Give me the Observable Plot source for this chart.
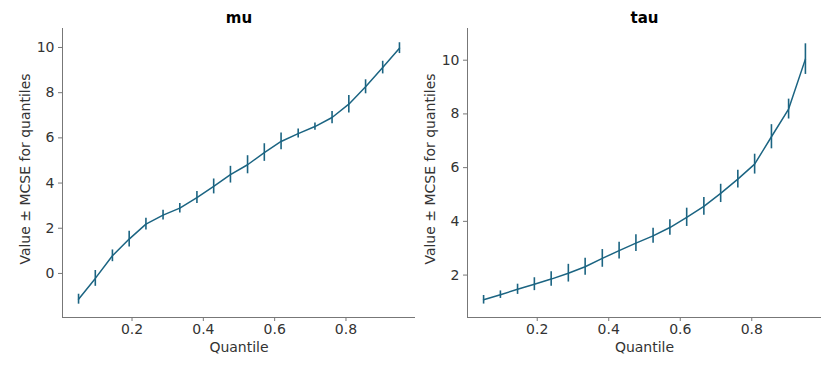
<!DOCTYPE html>
<html>
<head>
<meta charset="utf-8">
<script src="https://cdn.jsdelivr.net/npm/d3@7"></script>
<script src="https://cdn.jsdelivr.net/npm/@observablehq/plot@0.6"></script>
<style>
  html, body { margin: 0; padding: 0; background: #fff; }
  #wrap { display: flex; flex-direction: row; width: 837px; height: 368px; }
  svg { font-family: "DejaVu Sans", sans-serif; }
</style>
</head>
<body>
<div id="wrap"></div>
<script>
const quantiles = [0.05, 0.097, 0.145, 0.192, 0.239, 0.287, 0.334, 0.382, 0.429, 0.476,
                   0.524, 0.571, 0.618, 0.666, 0.713, 0.761, 0.808, 0.855, 0.903, 0.95];
const muValues = [-1.14, -0.22, 0.78, 1.52, 2.18, 2.58, 2.89, 3.36, 3.85, 4.37,
                  4.81, 5.35, 5.84, 6.19, 6.50, 6.90, 7.49, 8.26, 9.11, 9.97];
const muMcse = [0.22, 0.35, 0.26, 0.35, 0.26, 0.22, 0.21, 0.27, 0.33, 0.37,
                0.40, 0.39, 0.37, 0.20, 0.16, 0.27, 0.39, 0.31, 0.28, 0.24];
const tauValues = [1.08, 1.27, 1.47, 1.66, 1.85, 2.07, 2.31, 2.62, 2.91, 3.19,
                   3.46, 3.77, 4.15, 4.56, 5.04, 5.57, 6.13, 7.15, 8.18, 10.04];
const tauMcse = [0.16, 0.14, 0.19, 0.24, 0.27, 0.33, 0.32, 0.33, 0.31, 0.31,
                 0.28, 0.29, 0.34, 0.33, 0.34, 0.33, 0.37, 0.45, 0.37, 0.57];
const xTicks = [0.2, 0.4, 0.6, 0.8];
const muTicks = [0, 2, 4, 6, 8, 10];
const tauTicks = [2, 4, 6, 8, 10];
const titles = ["mu", "tau"];
const xLabel = "Quantile";
const yLabel = "Value ± MCSE for quantiles";

const lineColor = "#1b6482";
const spineColor = "#777";
const textColor = "#333";

function panel(title, values, mcse, yTicks, yDomain, opts) {
  const data = quantiles.map((q, i) => ({q, v: values[i], lo: values[i] - mcse[i], hi: values[i] + mcse[i]}));
  const xDomain = [0.005, 0.995];
  return Plot.plot({
    width: opts.width,
    height: 368,
    marginLeft: opts.marginLeft,
    marginRight: opts.marginRight,
    marginTop: 28,
    marginBottom: 51,
    style: {fontFamily: "DejaVu Sans, sans-serif", fontSize: "14px", color: textColor, background: "#fff", overflow: "visible"},
    x: {domain: xDomain},
    y: {domain: yDomain},
    marks: [
      Plot.ruleX([xDomain[0]], {stroke: spineColor, strokeWidth: 1}),
      Plot.ruleY([yDomain[0]], {stroke: spineColor, strokeWidth: 1}),
      Plot.axisX({ticks: xTicks, tickFormat: d3.format(".1f"), tickSize: 4, tickPadding: 3, stroke: spineColor, fill: textColor, fontSize: 14, label: null}),
      Plot.axisY({ticks: yTicks, tickFormat: d3.format("d"), tickSize: 4, tickPadding: 4, stroke: spineColor, fill: textColor, fontSize: 14, label: null}),
      Plot.line(data, {x: "q", y: "v", stroke: lineColor, strokeWidth: 1.5}),
      Plot.ruleX(data, {x: "q", y1: "lo", y2: "hi", stroke: lineColor, strokeWidth: 1.6}),
      Plot.text([title], {frameAnchor: "top", textAnchor: "middle", lineAnchor: "bottom", dy: -6, fontWeight: "bold", fontSize: 15, fill: "#000"}),
      Plot.text([xLabel], {frameAnchor: "bottom", textAnchor: "middle", lineAnchor: "middle", dy: 30.5, fontSize: 14, fill: textColor}),
      Plot.text([yLabel], {frameAnchor: "left", textAnchor: "middle", lineAnchor: "middle", dx: -37, dy: -4, rotate: -90, fontSize: 14, fill: textColor})
    ]
  });
}

const wrap = document.getElementById("wrap");
wrap.appendChild(panel(titles[0], muValues, muMcse, muTicks, [-1.95, 10.84], {width: 418, marginLeft: 62, marginRight: 3}));
wrap.appendChild(panel(titles[1], tauValues, tauMcse, tauTicks, [0.42, 11.18], {width: 419, marginLeft: 49, marginRight: 16}));
</script>
</body>
</html>
